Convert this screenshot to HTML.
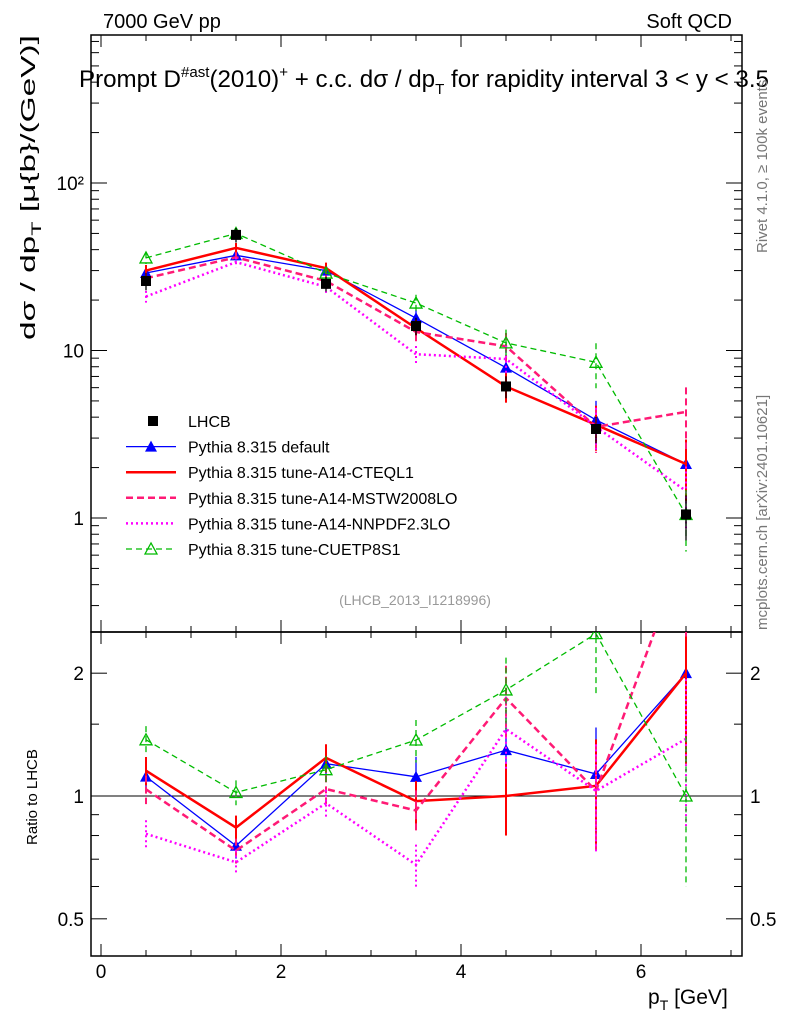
<!DOCTYPE html>
<html><head><meta charset="utf-8"><style>
html,body{margin:0;padding:0;background:#fff;}
svg{display:block;font-family:"Liberation Sans",sans-serif;}
</style></head><body>
<svg id="c" width="786" height="1024" viewBox="0 0 786 1024"></svg>
<script>
const categories=[0.5,1.5,2.5,3.5,4.5,5.5,6.5];
const lhcb=[26,49,25,14,6.1,3.4,1.05];
const lhcbErr=[0.12,0.1,0.1,0.12,0.15,0.18,0.3];
const sDefault=[29,37,30,15.6,7.9,3.85,2.1];
const sCteq=[30,41,31,13.6,6.1,3.6,2.1];
const sMstw=[27,36,26,12.9,10.6,3.5,4.3];
const sNnpdf=[21,33.7,24,9.5,8.9,3.5,1.45];
const sCuet=[35.7,50,29,19.2,11.1,8.5,1.05];
const modelErr=[0.08,0.07,0.08,0.12,0.2,0.3,0.4];
const mainTickLabels=["1","10","10\u00b2"];
const ratioTickLabels=["0.5","1","2"];
const xTickLabels=["0","2","4","6"];

const NS="http://www.w3.org/2000/svg";
const svg=document.getElementById('c');
const L=91,R=742,T=35,M=632,B=956;
const sx=v=>101+90*v;
const sy=v=>518-167.5*Math.log10(v);
const ry=v=>796-408*Math.log10(v);
function el(tag,a,parent){const e=document.createElementNS(NS,tag);for(const k in a)e.setAttribute(k,a[k]);(parent||svg).appendChild(e);return e;}
function txt(s,a,name){const e=el('text',a);e.textContent=s;

return e;}

const f1=el('rect',{x:L,y:T,width:R-L,height:M-T,fill:'none',stroke:'#000','stroke-width':1.5});


const f2=el('rect',{x:L,y:M,width:R-L,height:B-M,fill:'none',stroke:'#000','stroke-width':1.5});



for(let v=0;v<=7.01;v+=0.5){const x=sx(v);const major=Math.abs(v%2)<0.01;const len=major?12:6;
 [[T,1],[M,-1],[M,1],[B,-1]].forEach(([y0,d])=>el('line',{x1:x,x2:x,y1:y0,y2:y0+d*len,stroke:'#000'}));}
xTickLabels.forEach((s,i)=>txt(s,{x:sx(i*2),y:978,'font-size':19,'text-anchor':'middle'},'x-tick-label'));
for(let d=-1;d<3;d++)for(let k=1;k<10;k++){const v=k*Math.pow(10,d);const y=sy(v);if(y<T||y>M)continue;const len=k==1?16:8;
 el('line',{x1:L,x2:L+len,y1:y,y2:y,stroke:'#000'});el('line',{x1:R,x2:R-len,y1:y,y2:y,stroke:'#000'});}
mainTickLabels.forEach((s,i)=>txt(s,{x:84,y:sy(Math.pow(10,i))+7,'font-size':19,'text-anchor':'end'},'main-y-tick-label'));
[0.5,0.6,0.7,0.8,0.9,1,1.5,2].forEach(v=>{const y=ry(v);const len=(v==0.5||v==1||v==2)?16:8;
 el('line',{x1:L,x2:L+len,y1:y,y2:y,stroke:'#000'});el('line',{x1:R,x2:R-len,y1:y,y2:y,stroke:'#000'});});
[0.5,1,2].forEach((v,i)=>{txt(ratioTickLabels[i],{x:84,y:ry(v)+7,'font-size':19,'text-anchor':'end'},'ratio-y-tick-label');
 txt(ratioTickLabels[i],{x:750,y:ry(v)+7,'font-size':19},'ratio-y-tick-label-right');});
const one=el('line',{x1:L,x2:R,y1:ry(1),y2:ry(1),stroke:'#000'});



const defs=el('defs',{});
const c1=el('clipPath',{id:'cm'},defs);el('rect',{x:L,y:T,width:R-L,height:M-T},c1);
const c2=el('clipPath',{id:'cr'},defs);el('rect',{x:L,y:M,width:R-L,height:B-M},c2);
const gMain=el('g',{'clip-path':'url(#cm)'});
const gRatio=el('g',{'clip-path':'url(#cr)'});

function marker(g,x,y,type,color){
 if(type=='tri')el('polygon',{points:`${x},${y-6} ${x-6},${y+5} ${x+6},${y+5}`,fill:color},g);
 else if(type=='otri')el('polygon',{points:`${x},${y-6} ${x-6},${y+5} ${x+6},${y+5}`,fill:'none',stroke:color,'stroke-width':1.3},g);
}
const series=[
 {name:'Pythia 8.315 default',vals:sDefault,color:'#0000ff',dash:'',w:1.3,m:'tri',key:'default'},
 {name:'Pythia 8.315 tune-A14-CTEQL1',vals:sCteq,color:'#ff0000',dash:'',w:2.5,m:'',key:'cteql1'},
 {name:'Pythia 8.315 tune-A14-MSTW2008LO',vals:sMstw,color:'#ff1a75',dash:'7,4',w:2.5,m:'',key:'mstw2008lo'},
 {name:'Pythia 8.315 tune-A14-NNPDF2.3LO',vals:sNnpdf,color:'#ff00ff',dash:'2,3',w:2.5,m:'',key:'nnpdf23lo'},
 {name:'Pythia 8.315 tune-CUETP8S1',vals:sCuet,color:'#00bb00',dash:'6,4',w:1.3,m:'otri',key:'cuetp8s1'}];

series.forEach(s=>{
 const gm=el('g',{},gMain);
 
 
 const gr=el('g',{},gRatio);
 
 
 const pm=[],pr=[];
 categories.forEach((c,i)=>{const v=s.vals[i],r=v/lhcb[i],e=modelErr[i];const x=sx(c);
  pm.push(x+','+sy(v));pr.push(x+','+ry(r));
  el('line',{x1:x,x2:x,y1:sy(v*(1+e)),y2:sy(v*(1-e)),stroke:s.color,'stroke-width':s.w>2?2:1.3,'stroke-dasharray':s.dash},gm);
  el('line',{x1:x,x2:x,y1:ry(r*(1+e)),y2:ry(r*(1-e)),stroke:s.color,'stroke-width':s.w>2?2:1.3,'stroke-dasharray':s.dash},gr);
 });
 el('polyline',{points:pm.join(' '),fill:'none',stroke:s.color,'stroke-width':s.w,'stroke-dasharray':s.dash},gm);
 el('polyline',{points:pr.join(' '),fill:'none',stroke:s.color,'stroke-width':s.w,'stroke-dasharray':s.dash},gr);
 if(s.m)categories.forEach((c,i)=>{marker(gm,sx(c),sy(s.vals[i]),s.m,s.color);marker(gr,sx(c),ry(s.vals[i]/lhcb[i]),s.m,s.color);});
});
const gd=el('g',{},gMain);


categories.forEach((c,i)=>{const x=sx(c),v=lhcb[i],e=lhcbErr[i];
 el('line',{x1:x,x2:x,y1:sy(v*(1+e)),y2:sy(v*(1-e)),stroke:'#000','stroke-width':1.3},gd);
 el('rect',{x:x-5,y:sy(v)-5,width:10,height:10,fill:'#000'},gd);});

const lg=el('g',{});


const ly0=421,ldy=25.6;
el('rect',{x:148,y:ly0-5,width:10,height:10,fill:'#000'},lg);
txt('LHCB',{x:188,y:ly0+6,'font-size':16},'legend-entry-lhcb');
series.forEach((s,i)=>{const y=ly0+ldy*(i+1);
 el('line',{x1:126,x2:176,y1:y,y2:y,stroke:s.color,'stroke-width':s.w,'stroke-dasharray':s.dash},lg);
 if(s.m)marker(lg,151,y,s.m,s.color);
 txt(s.name,{x:188,y:y+6,'font-size':16},'legend-entry-'+s.key);});

txt('7000 GeV pp',{x:103,y:28,'font-size':20},'energy-label');
txt('Soft QCD',{x:732,y:28,'font-size':20,'text-anchor':'end'},'process-label');
const t=txt('',{x:79,y:87,'font-size':24,textLength:690,lengthAdjust:'spacingAndGlyphs'},'plot-title');
t.innerHTML='Prompt D<tspan dy="-10" font-size="15">#ast</tspan><tspan dy="10">(2010)</tspan><tspan dy="-10" font-size="15">+</tspan><tspan dy="10"> + c.c.  dσ / dp</tspan><tspan dy="7" font-size="15">T</tspan><tspan dy="-7"> for rapidity interval 3 &lt; y &lt; 3.5</tspan>';
const yt=txt('',{x:0,y:0,'font-size':20,textLength:305,lengthAdjust:'spacingAndGlyphs',transform:'translate(35,340) rotate(-90)'},'main-y-axis-title');
yt.innerHTML='dσ / dp<tspan dy="6" font-size="14">T</tspan><tspan dy="-6">  [μ{b}/(GeV)]</tspan>';
txt('Ratio to LHCB',{x:0,y:0,'font-size':15,transform:'translate(37,845) rotate(-90)'},'ratio-y-axis-title');
const xt=txt('',{x:648,y:1004,'font-size':21},'x-axis-title');
xt.innerHTML='p<tspan dy="6" font-size="14">T</tspan><tspan dy="-6"> [GeV]</tspan>';
txt('Rivet 4.1.0, \u2265 100k events',{x:0,y:0,'font-size':15,fill:'#777',transform:'translate(767,253) rotate(-90)'},'rivet-version-label');
txt('mcplots.cern.ch [arXiv:2401.10621]',{x:0,y:0,'font-size':15,fill:'#777',transform:'translate(767,630) rotate(-90)'},'mcplots-label');
txt('(LHCB_2013_I1218996)',{x:415,y:605,'font-size':14,fill:'#999','text-anchor':'middle'},'analysis-id-label');
</script>
</body></html>
